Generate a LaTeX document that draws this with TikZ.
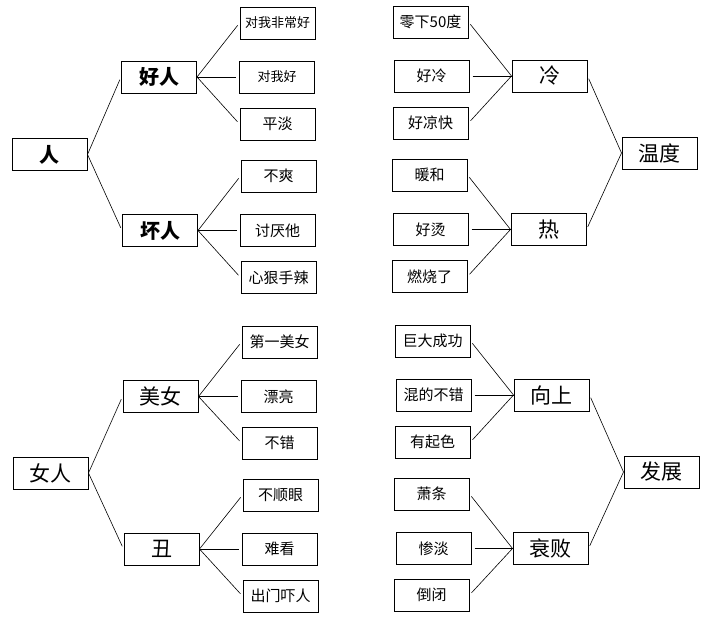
\documentclass[tikz,border=0pt]{standalone}
\usepackage{fontspec}
\setmainfont{Noto Sans CJK SC}
\usetikzlibrary{positioning}

\begin{document}
\begin{tikzpicture}[x=1pt, y=-1pt,
    box/.style={draw, line width=1pt, minimum width=75pt, minimum height=32pt, inner sep=0pt},
    leaf/.style={box, font=\fontsize{15}{18}\selectfont},
    small/.style={box, font=\fontsize{13}{16}\selectfont},
    mid/.style={box, font=\fontsize{21}{25}\selectfont},
    heavy/.style={box, font=\fontsize{20}{24}\selectfont\bfseries},
    link/.style={line width=0.6pt}]
    \useasboundingbox (0,0) rectangle (710,632);

    % 人
    \node[heavy] (ren) at (49.5,154.5) {人};
    \node[heavy] (haoren) at (159,77) {好人};
    \node[heavy] (huairen) at (160,230.5) {坏人};
    \foreach \n/\x/\y/\t/\s in {a1/277.5/23/对我非常好/small, a2/277/77/对我好/small, a3/277.5/124/平淡/leaf,
                                a4/278.5/176/不爽/leaf, a5/277.5/230.5/讨厌他/leaf, a6/278.5/277.5/心狠手辣/leaf} {
        \node[\s] (\n) at (\x,\y) {\t};
    }

    % 温度
    \node[mid] (leng) at (549.5,76) {冷};
    \node[mid] (re) at (548.5,229.5) {热};
    \node[mid] (wendu) at (659.5,153) {温度};
    \foreach \n/\x/\y/\t in {b1/430.5/22/零下50度, b2/431.5/76/好冷, b3/430.5/123/好凉快,
                             b4/429.5/175/暖和, b5/430.5/229.5/好烫, b6/429.5/276.5/燃烧了} {
        \node[leaf] (\n) at (\x,\y) {\t};
    }

    % 女人
    \node[mid] (nvren) at (50.5,473) {女人};
    \node[mid] (meinv) at (160.5,396.5) {美女};
    \node[mid] (chou) at (161.5,549) {丑};
    \foreach \n/\x/\y/\t in {c1/279.5/342/第一美女, c2/278.5/396.5/漂亮, c3/279.5/443/不错,
                             c4/280.5/495/不顺眼, c5/279.5/549/难看, c6/280.5/596/出门吓人} {
        \node[leaf] (\n) at (\x,\y) {\t};
    }

    % 发展
    \node[mid] (xiangshang) at (551.5,395) {向上};
    \node[mid] (shuaibai) at (550.5,548.5) {衰败};
    \node[mid] (fazhan) at (661.5,472) {发展};
    \foreach \n/\x/\y/\t in {d1/432.5/341/巨大成功, d2/433.5/395/混的不错, d3/432.5/442/有起色,
                             d4/431.5/494/萧条, d5/433.5/548.5/惨淡, d6/431.5/595/倒闭} {
        \node[leaf] (\n) at (\x,\y) {\t};
    }

    % connectors, left trees
    \foreach \p/\c in {ren/haoren, ren/huairen, haoren/a1, haoren/a2, haoren/a3, huairen/a4, huairen/a5, huairen/a6,
                       nvren/meinv, nvren/chou, meinv/c1, meinv/c2, meinv/c3, chou/c4, chou/c5, chou/c6} {
        \draw[link, shorten >=3pt] (\p.east) -- (\c.west);
    }
    % connectors, right trees
    \foreach \c/\p in {b1/leng, b2/leng, b3/leng, b4/re, b5/re, b6/re, leng/wendu, re/wendu,
                       d1/xiangshang, d2/xiangshang, d3/xiangshang, d4/shuaibai, d5/shuaibai, d6/shuaibai,
                       xiangshang/fazhan, shuaibai/fazhan} {
        \draw[link, shorten <=3pt] (\c.east) -- (\p.west);
    }
\end{tikzpicture}
\end{document}
